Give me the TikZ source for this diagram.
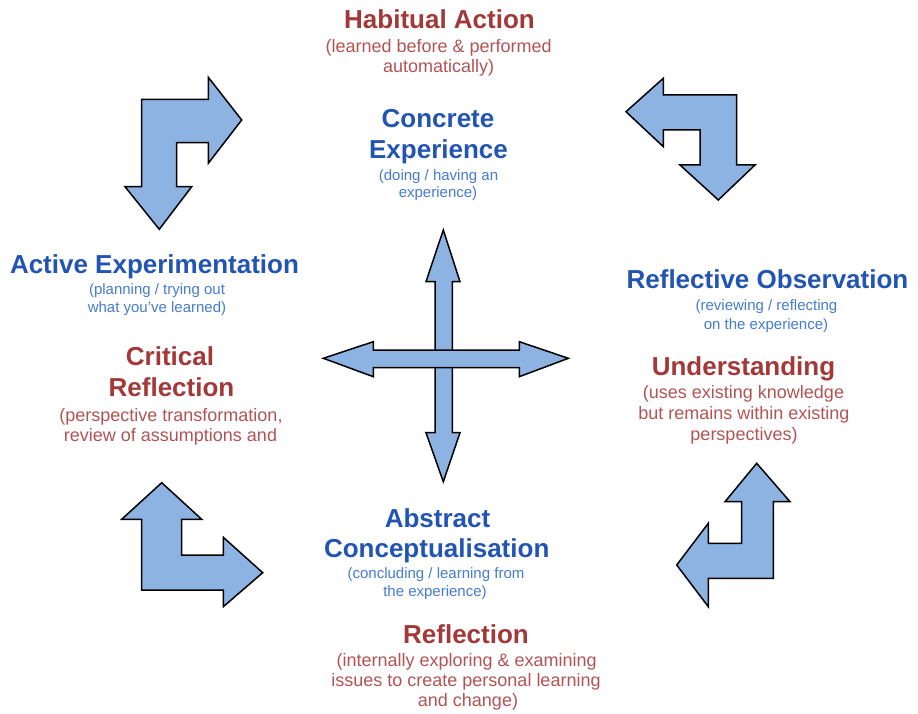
\documentclass[tikz,border=0pt]{standalone}
\usepackage{fontspec}
\setmainfont{Liberation Sans}
\definecolor{arrowfill}{RGB}{141,179,226}
\definecolor{bluetitle}{RGB}{34,84,180}
\definecolor{bluesub}{RGB}{70,124,208}
\definecolor{redtitle}{RGB}{163,56,56}
\definecolor{redsub}{RGB}{178,84,84}
\tikzset{
  arrowshape/.style={fill=arrowfill, draw=black, line width=1.5pt, line join=miter},
  btitle/.style={anchor=base, inner sep=0pt, text=bluetitle, font=\bfseries\fontsize{26}{30}\selectfont},
  bsub/.style={anchor=base, inner sep=0pt, text=bluesub, font=\fontsize{15}{18}\selectfont},
  rtitle/.style={anchor=base, inner sep=0pt, text=redtitle, font=\bfseries\fontsize{26}{30}\selectfont},
  rsub/.style={anchor=base, inner sep=0pt, text=redsub, font=\fontsize{18}{21}\selectfont}
}
\begin{document}
\begin{tikzpicture}[x=1pt,y=-1pt]
\useasboundingbox (0,0) rectangle (918,714);
\fill[white] (0,0) rectangle (918,714);
% bent arrows
\draw[arrowshape] (141.7,99.3) -- (208.3,99.3) -- (208.3,77.3) -- (241.7,120) -- (208.3,163.3) -- (208.3,142.7) -- (176.7,142.7) -- (176.7,186.7) -- (191.7,186.7) -- (159.3,229.3) -- (125,186.7) -- (141.7,186.7) -- cycle;
\draw[arrowshape] (626,111.7) -- (663.3,78.3) -- (663.3,95) -- (736.7,95) -- (736.7,165) -- (755,165) -- (718.3,200) -- (680,165) -- (700,165) -- (700,130) -- (663.3,130) -- (663.3,146.7) -- cycle;
\draw[arrowshape] (161.7,482.7) -- (201.7,519.3) -- (181.7,519.3) -- (181.7,555) -- (223.3,555) -- (223.3,537.3) -- (262.7,572.7) -- (223.3,606.7) -- (223.3,590) -- (141.7,590) -- (141.7,519.3) -- (121.7,519.3) -- cycle;
\draw[arrowshape] (756.7,463.3) -- (790,501.7) -- (773.3,501.7) -- (773.3,578.3) -- (708.3,578.3) -- (708.3,606.7) -- (676.7,565) -- (708.3,523.3) -- (708.3,543.3) -- (741.7,543.3) -- (741.7,501.7) -- (725,501.7) -- cycle;
% cross arrows
\draw[arrowshape] (443.3,230) -- (460,281.7) -- (452.3,281.7) -- (452.3,432.7) -- (460,432.7) -- (443.3,481.7) -- (426,432.7) -- (435,432.7) -- (435,281.7) -- (426,281.7) -- cycle;
\draw[arrowshape] (323.3,358.3) -- (373.3,341.7) -- (373.3,350) -- (519.3,350) -- (519.3,341.7) -- (568.3,358.3) -- (519.3,376.7) -- (519.3,367.7) -- (373.3,367.7) -- (373.3,376.7) -- cycle;
% Habitual Action
\node[rtitle] (ha) at (439.5,29) {Habitual Action};
\node[rsub] (ha1) at (438.7,53) {(learned before \& performed};
\node[rsub] (ha2) at (438.7,73) {automatically)};
% Concrete Experience
\node[btitle] (ce1) at (438,128) {Concrete};
\node[btitle] (ce2) at (438.5,158.5) {Experience};
\node[bsub] (ces1) at (438.5,180.5) {(doing / having an};
\node[bsub] (ces2) at (438,198) {experience)};
% Active Experimentation
\node[btitle] (ae) at (154.5,273) {Active Experimentation};
\node[bsub] (aes1) at (157,294.5) {(planning / trying out};
\node[bsub] (aes2) at (157,312) {what you've learned)};
% Critical Reflection
\node[rtitle] (cr1) at (170,365) {Critical};
\node[rtitle] (cr2) at (171.5,396) {Reflection};
\node[rsub] (crs1) at (171,421.5) {(perspective transformation,};
\node[rsub] (crs2) at (170.5,441.5) {review of assumptions and};
% Reflective Observation
\node[btitle] (ro) at (767.5,288) {Reflective Observation};
\node[bsub] (ros1) at (766.5,310) {(reviewing / reflecting};
\node[bsub] (ros2) at (766,329) {on the experience)};
% Understanding
\node[rtitle] (un) at (743.5,375.5) {Understanding};
\node[rsub] (uns1) at (743.5,398.5) {(uses existing knowledge};
\node[rsub] (uns2) at (743.8,419.5) {but remains within existing};
\node[rsub] (uns3) at (744,440) {perspectives)};
% Abstract Conceptualisation
\node[btitle] (ac1) at (437.5,527.7) {Abstract};
\node[btitle] (ac2) at (436.7,557) {Conceptualisation};
\node[bsub] (acs1) at (436,578) {(concluding / learning from};
\node[bsub] (acs2) at (435,596.5) {the experience)};
% Reflection
\node[rtitle] (rf) at (466,643.3) {Reflection};
\node[rsub] (rfs1) at (466.7,666.7) {(internally exploring \& examining};
\node[rsub] (rfs2) at (466,686.7) {issues to create personal learning};
\node[rsub] (rfs3) at (468,706.5) {and change)};
\end{tikzpicture}
\end{document}
